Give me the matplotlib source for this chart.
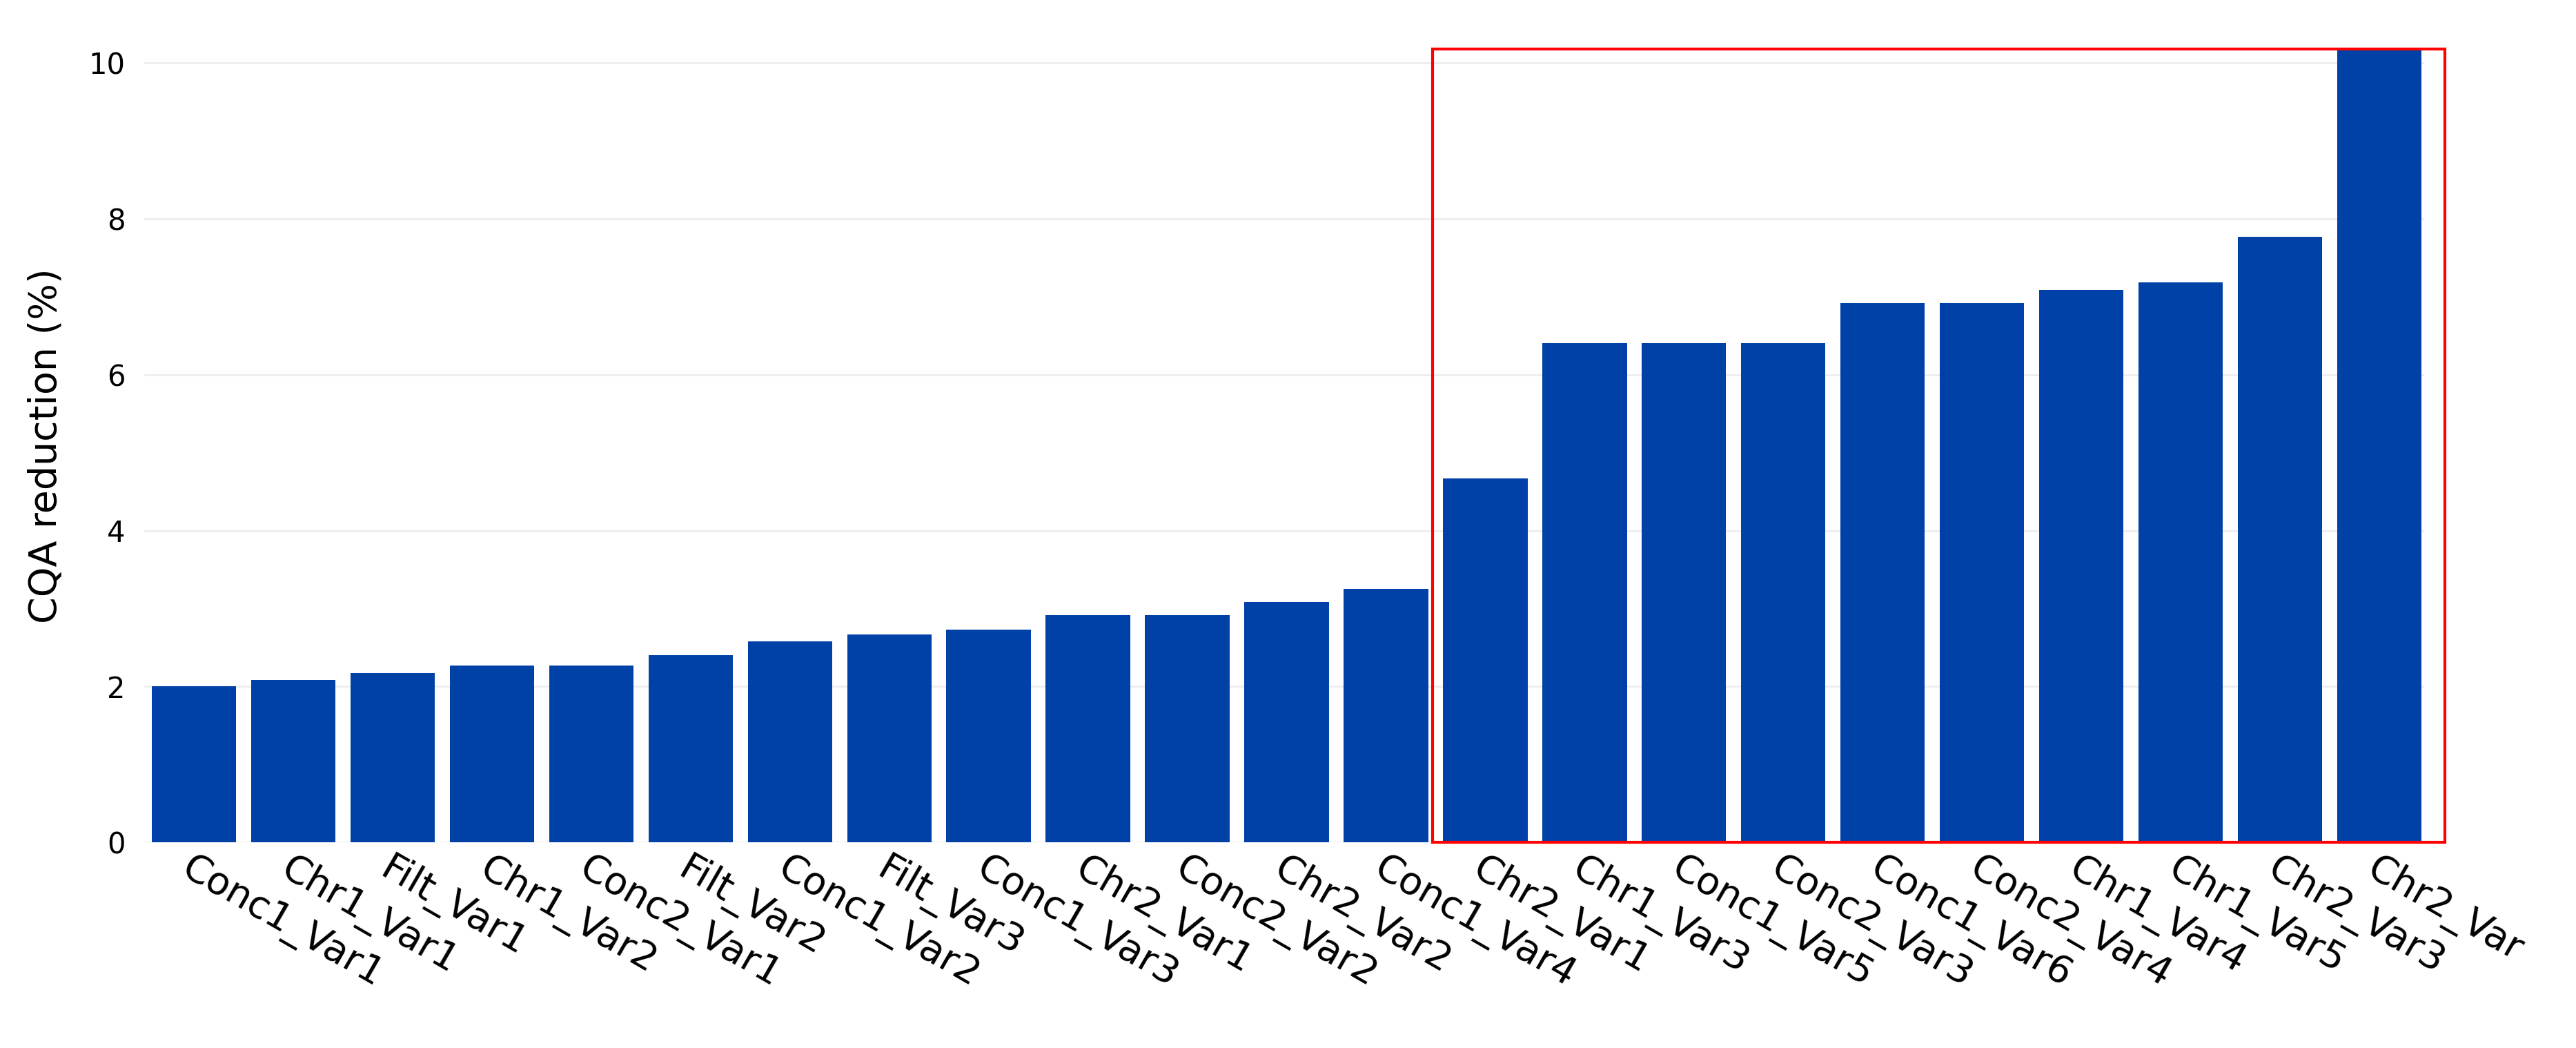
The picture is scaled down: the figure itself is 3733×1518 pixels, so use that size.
import matplotlib.pyplot as plt
from matplotlib.patches import Rectangle

labels = ["Conc1_Var1", "Chr1_Var1", "Filt_Var1", "Chr1_Var2", "Conc2_Var1", "Filt_Var2",
          "Conc1_Var2", "Filt_Var3", "Conc1_Var3", "Chr2_Var1", "Conc2_Var2", "Chr2_Var2",
          "Conc1_Var4", "Chr2_Var1", "Chr1_Var3", "Conc1_Var5", "Conc2_Var3", "Conc1_Var6",
          "Conc2_Var4", "Chr1_Var4", "Chr1_Var5", "Chr2_Var3", "Chr2_Var"]
values = [2.0, 2.08, 2.17, 2.27, 2.27, 2.4, 2.58, 2.67, 2.73, 2.92, 2.92, 3.08,
          3.25, 4.67, 6.4, 6.4, 6.4, 6.92, 6.92, 7.08, 7.18, 7.77, 10.2]

fig = plt.figure(figsize=(37.33, 15.18), dpi=100)
ax = fig.add_axes([0.056, 0.196, 0.885, 0.757])
x = range(len(values))
ax.bar(x, values, width=0.85, color="#0041a8", zorder=3)
ax.set_xlim(-0.5, 22.45)
ax.set_ylim(0, 10.17)
ax.set_yticks([0, 2, 4, 6, 8, 10])
ax.tick_params(axis="y", labelsize=30, length=0, pad=20)
ax.grid(axis="y", color="#eeeeee", linewidth=2, zorder=0)
for s in ax.spines.values():
    s.set_visible(False)
ax.set_xticks(list(x))
ax.set_xticklabels(labels, rotation=-30, ha="left", va="top", rotation_mode="anchor",
                   fontsize=40)
ax.tick_params(axis="x", length=0, pad=8)
ax.set_ylabel("CQA reduction (%)", fontsize=40, labelpad=25)

ax.add_patch(Rectangle((12.47, 0), 22.66 - 12.47, 10.17, fill=False, edgecolor="red",
                       linewidth=3, clip_on=False, zorder=5))

fig.savefig("out.png")
